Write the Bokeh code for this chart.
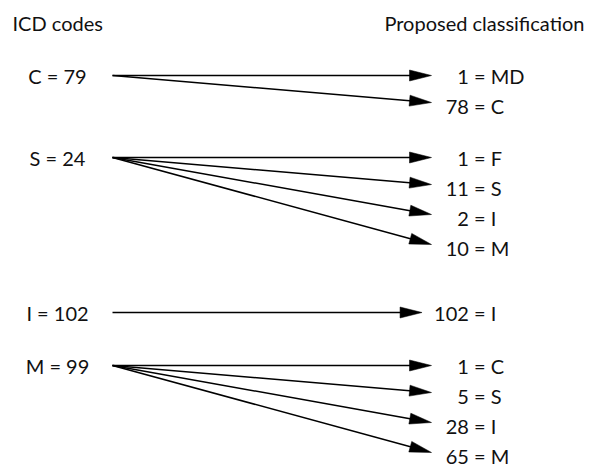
import numpy as np
from bokeh.plotting import figure
from bokeh.models import Range1d
from bokeh.core.properties import value
from bokeh.embed import file_html
from bokeh.resources import INLINE

# ---- data ----
left_title = "ICD codes"
right_title = "Proposed classification"
src_code = ["C", "S", "I", "M"]
src_count = [79, 24, 102, 99]
tgt_src = ["C", "C", "S", "S", "S", "S", "I", "M", "M", "M", "M"]
tgt_code = ["MD", "C", "F", "S", "I", "M", "I", "C", "S", "I", "M"]
tgt_count = [1, 78, 1, 11, 2, 10, 102, 1, 5, 28, 65]

# ---- layout (pixel space of the picture) ----
W, H = 593, 472
FONT = value("Lato")
FS = 20
y0, step = 75, 30
group_gap = [0, 52, 65, 53]      # extra space before each group's first row
src_x, line_x0 = 57, 112
eq_x = 478
tip_max = 431
head_len, head_w = 22, 11
dig_w, sp_w, eq_w = 0.58 * FS, 0.193 * FS, 0.58 * FS

group = [src_code.index(s) for s in tgt_src]
ty = []
y = y0
for i in range(len(tgt_src)):
    if i > 0:
        y += group_gap[group[i]] if group[i] != group[i - 1] else step
    ty.append(y)
ty = np.array(ty, float)
first = [i == 0 or tgt_src[i] != tgt_src[i - 1] for i in range(len(tgt_src))]
sy = np.array([ty[tgt_src.index(c)] for c in src_code])

tgt_labels = [f"{n} = {c}" for n, c in zip(tgt_count, tgt_code)]
src_labels = [f"{c} = {n}" for c, n in zip(src_code, src_count)]
ndig = np.array([len(str(n)) for n in tgt_count])
tx = eq_x - (ndig * dig_w + sp_w + eq_w / 2)

p = figure(width=W, height=H, output_backend="svg", toolbar_location=None,
           x_range=Range1d(0, W), y_range=Range1d(H, 0), min_border=0)
p.axis.visible = False
p.grid.visible = False
p.outline_line_color = None
p.background_fill_color = "white"
p.border_fill_color = "white"

# arrows
xs_l, ys_l, xs_h, ys_h = [], [], [], []
for i in range(len(tgt_src)):
    g = group[i]
    S = np.array([line_x0, sy[g]], float)
    T = np.array([min(tip_max, tx[i] - 12), ty[i] - (0 if first[i] else 3)], float)
    u = (T - S) / np.linalg.norm(T - S)
    nrm = np.array([-u[1], u[0]])
    B = T - u * head_len
    E = B + u * 3
    xs_l.append([S[0], E[0]]); ys_l.append([S[1], E[1]])
    P1 = B + nrm * head_w / 2
    P2 = B - nrm * head_w / 2
    xs_h.append([T[0], P1[0], P2[0]]); ys_h.append([T[1], P1[1], P2[1]])

p.multi_line(xs_l, ys_l, line_color="black", line_width=1.5)
p.patches(xs_h, ys_h, fill_color="black", line_color="black", line_width=0.5)

# labels
p.text(x=tx, y=ty, text=tgt_labels, text_font=FONT, text_font_size=f"{FS}px",
       text_align="left", text_baseline="middle", text_color="#111111")
p.text(x=[src_x] * len(src_labels), y=sy, text=src_labels, text_font=FONT,
       text_font_size=f"{FS}px", text_align="center", text_baseline="middle",
       text_color="#111111")
p.text(x=[12], y=[22], text=[left_title], text_font=FONT, text_font_size=f"{FS}px",
       text_align="left", text_baseline="middle", text_color="#111111")
p.text(x=[584], y=[22], text=[right_title], text_font=FONT, text_font_size=f"{FS}px",
       text_align="right", text_baseline="middle", text_color="#111111")

open("out.html", "w").write(file_html(p, INLINE))
